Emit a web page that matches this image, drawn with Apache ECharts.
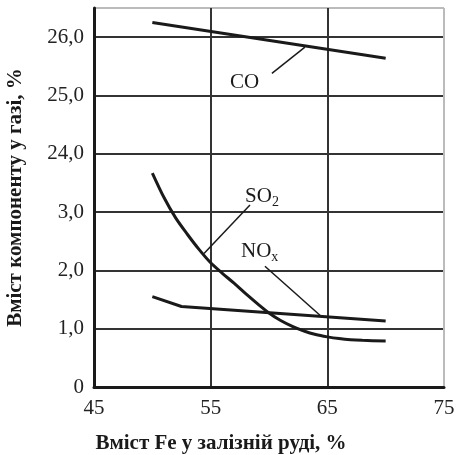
<!DOCTYPE html>
<html>
<head>
<meta charset="utf-8">
<script src="https://cdn.jsdelivr.net/npm/echarts@6/dist/echarts.min.js"></script>
<style>
  html, body { margin: 0; padding: 0; background: #fff; }
  #chart { width: 465px; height: 455px; }
</style>
</head>
<body>
<div id="chart"></div>
<script>
// Gas composition versus iron content of the ore
const feTicks = [45, 55, 65, 75];
const yTickLabels = ['0', '1,0', '2,0', '3,0', '24,0', '25,0', '26,0'];

const coFe = [50, 70];
const coValues = [26.25, 25.64];

const so2Fe = [50, 51, 52, 53, 54, 55, 56, 57, 58, 59, 60, 61, 62, 63, 64, 65, 66, 67, 68, 70];
const so2Values = [3.67, 3.25, 2.9, 2.62, 2.36, 2.13, 1.95, 1.78, 1.6, 1.43, 1.27, 1.14, 1.04, 0.96, 0.9, 0.86, 0.83, 0.81, 0.8, 0.79];

const noxFe = [50, 52.5, 70];
const noxValues = [1.55, 1.38, 1.13];

// The value axis is broken: 0..3 is shown directly, 24..26 is shifted down by 20
const BREAK_SHIFT = 20;
const toAxis = v => (v >= 20 ? v - BREAK_SHIFT : v);

const pairs = (xs, ys) => xs.map((x, i) => [x, toAxis(ys[i])]);

const serif = '"Liberation Serif", "Times New Roman", serif';
const ink = '#1a1a1a';

const leader = (from, to) => ({
  silent: true,
  symbol: ['none', 'none'],
  animation: false,
  lineStyle: { color: ink, width: 1.5, type: 'solid' },
  label: { show: false },
  data: [[{ coord: [from[0], toAxis(from[1])] }, { coord: [to[0], toAxis(to[1])] }]]
});

const tag = (pos, text) => ({
  silent: true,
  animation: false,
  symbol: 'circle',
  symbolSize: 0,
  data: [{ coord: [pos[0], toAxis(pos[1])] }],
  label: {
    show: true,
    position: 'inside',
    formatter: text,
    color: ink,
    fontFamily: serif,
    rich: {
      m: { fontFamily: serif, fontSize: 21, color: ink },
      s: { fontFamily: serif, fontSize: 14, color: ink, padding: [12, 0, 0, 0] }
    }
  }
});

const lineSeries = (name, data, extra) => Object.assign({
  name,
  type: 'line',
  data,
  showSymbol: false,
  symbol: 'none',
  animation: false,
  lineStyle: { color: ink, width: 3 },
  z: 5
}, extra);

const chart = echarts.init(document.getElementById('chart'), null, { renderer: 'canvas' });

chart.setOption({
  backgroundColor: '#ffffff',
  grid: { left: 94, right: 21, top: 8, bottom: 68, show: false, containLabel: false, outerBoundsMode: 'none' },
  xAxis: {
    type: 'value',
    min: feTicks[0],
    max: feTicks[feTicks.length - 1],
    interval: 10,
    name: 'Вміст Fe у залізній руді, %',
    nameLocation: 'middle',
    nameGap: 46,
    nameTextStyle: { fontFamily: serif, fontSize: 21, fontWeight: 'bold', color: ink, padding: [0, 96, 0, 0] },
    axisLine: { show: true, lineStyle: { color: ink, width: 3 } },
    axisTick: { show: false },
    axisLabel: { fontFamily: serif, fontSize: 21, color: '#222', margin: 11 },
    splitLine: { show: true, lineStyle: { color: ['#333', '#333', '#333', '#bbbbbb'], width: 2 } }
  },
  yAxis: {
    type: 'value',
    min: 0,
    max: 6.5,
    interval: 1,
    name: 'Вміст компоненту у газі, %',
    nameLocation: 'middle',
    nameGap: 68,
    nameRotate: 90,
    nameTextStyle: { fontFamily: serif, fontSize: 21, fontWeight: 'bold', color: ink },
    axisLine: { show: true, lineStyle: { color: ink, width: 3 } },
    axisTick: { show: false },
    axisLabel: {
      fontFamily: serif, fontSize: 21, color: '#222', margin: 10,
      formatter: v => (Number.isInteger(v) && yTickLabels[v] !== undefined ? yTickLabels[v] : '')
    },
    splitLine: { show: true, lineStyle: { color: ['#333', '#333', '#333', '#333', '#333', '#333', '#333', '#bbbbbb'], width: 2 } }
  },
  series: [
    lineSeries('CO', pairs(coFe, coValues), {
      markLine: leader([60.25, 25.38], [63.08, 25.83]),
      markPoint: tag([57.9, 25.22], '{m|CO}')
    }),
    lineSeries('SO2', pairs(so2Fe, so2Values), {
      smooth: 0.3,
      markLine: leader([58.37, 3.12], [54.43, 2.29]),
      markPoint: tag([59.4, 3.27], '{m|SO}{s|2}')
    }),
    lineSeries('NOx', pairs(noxFe, noxValues), {
      markLine: leader([59.65, 2.07], [64.37, 1.23]),
      markPoint: tag([59.2, 2.33], '{m|NO}{s|x}')
    })
  ]
});
</script>
</body>
</html>
